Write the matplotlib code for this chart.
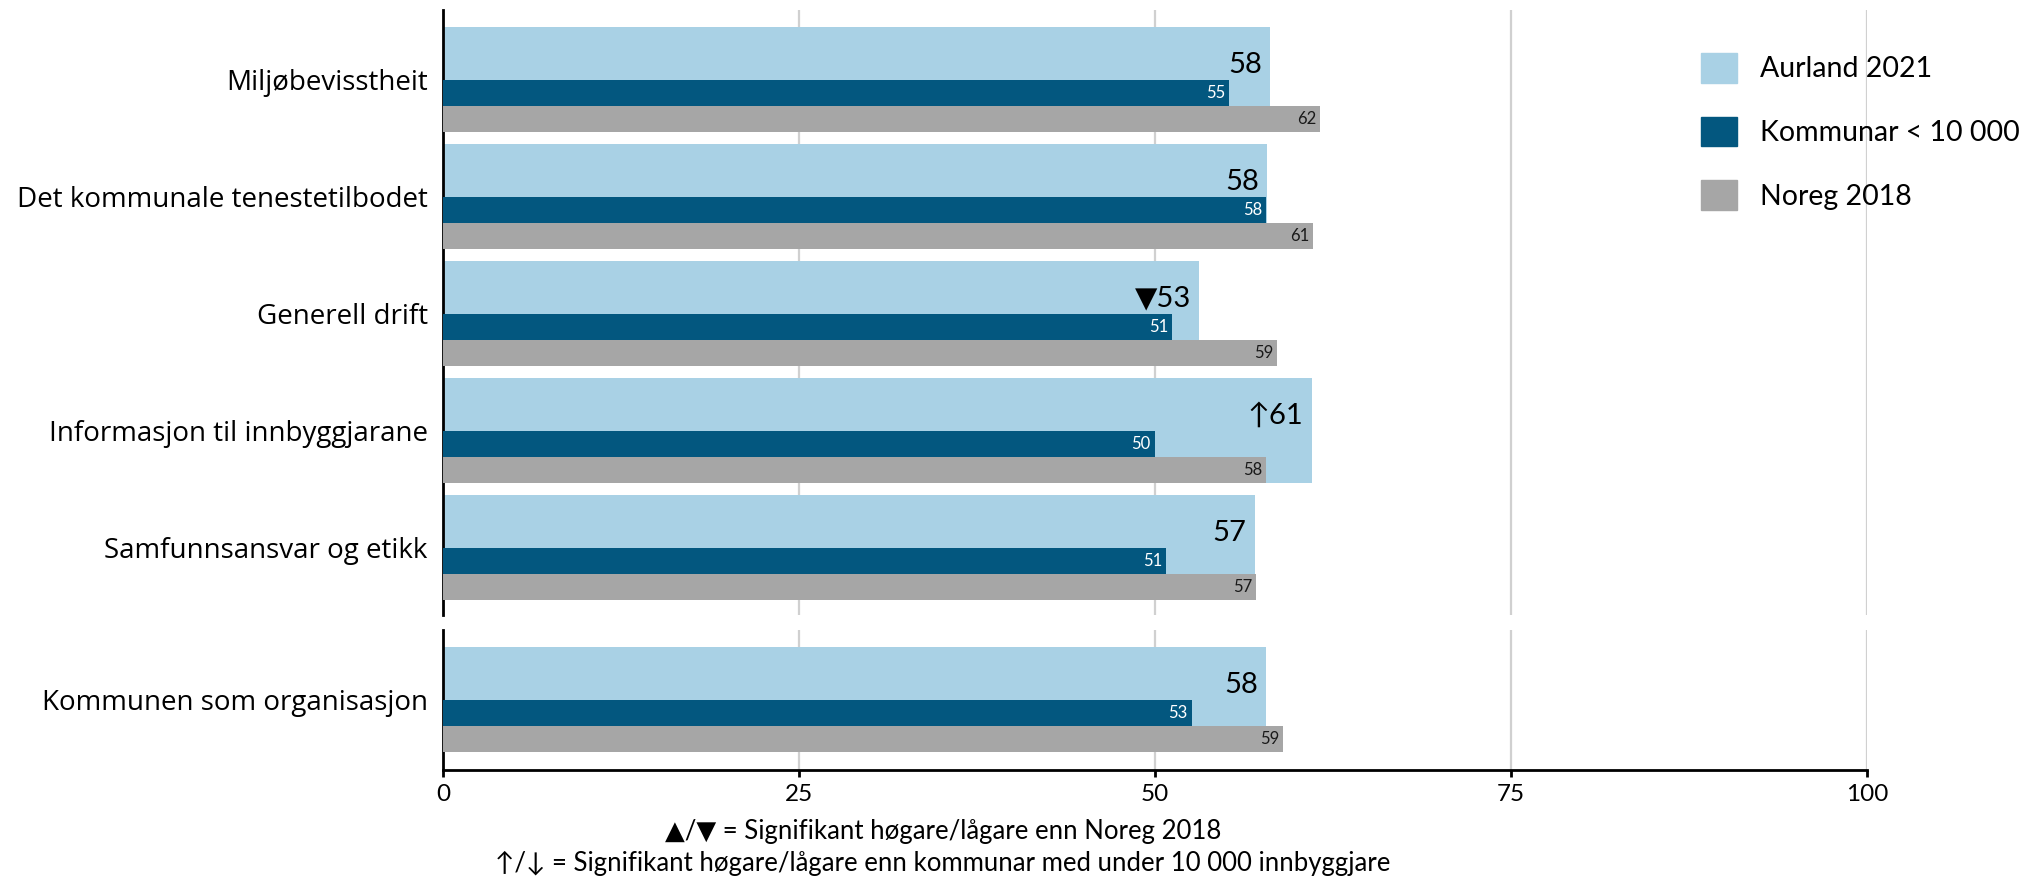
import matplotlib
matplotlib.use("Agg")
import matplotlib.pyplot as plt
from matplotlib.patches import Patch

# data
categories = ["Miljøbevisstheit", "Det kommunale tenestetilbodet", "Generell drift",
              "Informasjon til innbyggjarane", "Samfunnsansvar og etikk"]
total_category = ["Kommunen som organisasjon"]
aurland = [58.1, 57.9, 53.1, 61.0, 57.0]
kommunar = [55.2, 57.8, 51.2, 50.0, 50.8]
noreg = [61.6, 61.1, 58.6, 57.8, 57.1]
marks = ["", "", "▼", "↑", ""]
aurland_total = [57.8]
kommunar_total = [52.6]
noreg_total = [59.0]
marks_total = [""]
series_names = ["Aurland 2021", "Kommunar < 10 000", "Noreg 2018"]
xticks = [0, 25, 50, 75, 100]
notes = ["▲/▼ = Signifikant høgare/lågare enn Noreg 2018",
         "↑/↓ = Signifikant høgare/lågare enn kommunar med under 10 000 innbyggjare"]

c_light = "#a9d1e5"
c_dark = "#03577f"
c_grey = "#a6a6a6"
num_font = ["Lato", "DejaVu Sans"]
lab_font = ["Open Sans", "DejaVu Sans"]

W, H = 2042, 884
fig = plt.figure(figsize=(W / 100, H / 100), dpi=100)

def px_axes(left, top, right, bottom):
    return fig.add_axes([left / W, 1 - bottom / H, (right - left) / W, (bottom - top) / H])

ax_top = px_axes(443, 10, 1867, 615)
ax_bot = px_axes(443, 630, 1867, 770)


def draw(ax, cats, a, k, n, mk, height_px):
    ypos = list(range(len(cats)))
    ax.barh(ypos, a, height=0.9, color=c_light, zorder=2)
    ax.barh([y + 0.1125 for y in ypos], k, height=0.225, color=c_dark, zorder=3)
    ax.barh([y + 0.3375 for y in ypos], n, height=0.225, color=c_grey, zorder=4)
    for y, va_, vk, vn, m in zip(ypos, a, k, n, mk):
        ax.annotate(f"{m}{round(va_)}", (va_, y - 0.06), xytext=(-6, 0), textcoords="offset points",
                    ha="right", va="baseline", fontsize=21, family=num_font, color="black", zorder=5)
        ax.annotate(f"{round(vk)}", (vk, y + 0.1125), xytext=(-3, 0), textcoords="offset points",
                    ha="right", va="center", fontsize=12, family=num_font, color="white", zorder=5)
        ax.annotate(f"{round(vn)}", (vn, y + 0.3375), xytext=(-3, 0), textcoords="offset points",
                    ha="right", va="center", fontsize=12, family=num_font, color="#1a1a1a", zorder=5)
    top_margin = 17 / 117
    span = height_px / 117
    ax.set_ylim(-0.45 - top_margin + span, -0.45 - top_margin)
    ax.set_xlim(0, 100)
    ax.set_yticks(ypos)
    ax.set_yticklabels(cats, family=lab_font, fontsize=20)
    ax.tick_params(axis="y", length=0, pad=11)
    ax.set_xticks(xticks)
    ax.grid(axis="x", color="#d0d0d0", linewidth=1.6)
    ax.grid(axis="y", visible=False)
    ax.set_axisbelow(True)
    for s in ["top", "right"]:
        ax.spines[s].set_visible(False)
    ax.spines["left"].set_linewidth(2)
    ax.spines["left"].set_color("black")


draw(ax_top, categories, aurland, kommunar, noreg, marks, 605)
draw(ax_bot, total_category, aurland_total, kommunar_total, noreg_total, marks_total, 140)

ax_top.spines["bottom"].set_visible(False)
ax_top.tick_params(axis="x", length=0, labelbottom=False)
ax_bot.spines["bottom"].set_linewidth(2)
ax_bot.tick_params(axis="x", direction="out", length=5, width=2, pad=5, labelsize=17.5)
for t in ax_bot.get_xticklabels():
    t.set_family(num_font)

handles = [Patch(color=c) for c in (c_light, c_dark, c_grey)]
leg = fig.legend(handles, series_names, loc="upper left", bbox_to_anchor=(1701 / W, 1 - 53 / H),
                 frameon=False, borderpad=0, borderaxespad=0, handlelength=1.26, handleheight=1.22,
                 handletextpad=0.8, labelspacing=1.2, prop={"family": num_font, "size": 20.5})

for i, line in enumerate(notes):
    fig.text(943 / W, 1 - (831 + 32 * i) / H, line, ha="center", va="center",
             fontsize=18.5, family=num_font)

fig.savefig("out.png", dpi=100)
